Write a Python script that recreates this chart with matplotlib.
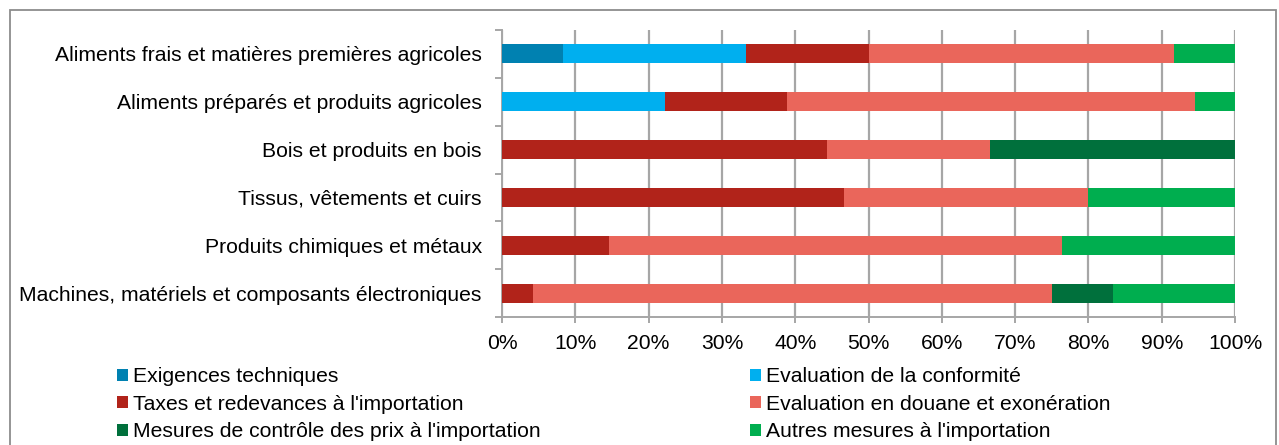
import matplotlib
matplotlib.use("Agg")
import matplotlib.pyplot as plt
from matplotlib.patches import Rectangle, Patch
from matplotlib.ticker import FixedLocator, PercentFormatter
import numpy as np

plt.rcParams['font.family'] = ['Liberation Sans', 'DejaVu Sans']

categories = [
    "Aliments frais et matières premières agricoles",
    "Aliments préparés et produits agricoles",
    "Bois et produits en bois",
    "Tissus, vêtements et cuirs",
    "Produits chimiques et métaux",
    "Machines, matériels et composants électroniques",
]

series_names = [
    "Exigences techniques",
    "Evaluation de la conformité",
    "Taxes et redevances à l'importation",
    "Evaluation en douane et exonération",
    "Mesures de contrôle des prix à l'importation",
    "Autres mesures à l'importation",
]

exigences = [8.3, 0.0, 0.0, 0.0, 0.0, 0.0]
conformite = [25.0, 22.2, 0.0, 0.0, 0.0, 0.0]
taxes = [16.7, 16.7, 44.4, 46.7, 14.6, 4.2]
douane = [41.7, 55.6, 22.2, 33.3, 61.8, 70.8]
prix = [0.0, 0.0, 33.4, 0.0, 0.0, 8.3]
autres = [8.3, 5.5, 0.0, 20.0, 23.6, 16.7]

colors = ["#0081B1", "#00AFEF", "#B1231A", "#EA665B", "#00703C", "#00AE4F"]

FS = 15.2
W, H = 1279, 445
fig = plt.figure(figsize=(W / 100, H / 100), dpi=100)

# outer frame of the chart
fig.patches.append(Rectangle((10 / W, -0.1), 1266 / W, 1.1 - 10 / H,
                             transform=fig.transFigure, fill=False,
                             edgecolor="#8C8C8C", linewidth=1.3))

ax = fig.add_axes([502 / W, 1 - 317 / H, (1235 - 502) / W, (317 - 30) / H])

data = [exigences, conformite, taxes, douane, prix, autres]
y = np.arange(len(categories))
left = np.zeros(len(categories))
for vals, name, col in zip(data, series_names, colors):
    vals = np.array(vals)
    ax.barh(y, vals, left=left, height=0.4, color=col, label=name, zorder=3)
    left += vals

ax.set_xlim(0, 100)
ax.set_ylim(len(categories) - 0.5, -0.5)

ax.set_xticks(np.arange(0, 101, 10))
ax.xaxis.set_major_formatter(PercentFormatter(decimals=0))
ax.grid(axis="x", color="#A6A6A6", linewidth=1.6, zorder=0)

ax.set_yticks(y)
ax.set_yticklabels(categories)
ax.yaxis.set_minor_locator(FixedLocator(np.arange(-0.5, len(categories), 1)))
ax.tick_params(axis="y", which="major", length=0, pad=14.5, labelsize=FS, colors="#000000")
ax.tick_params(axis="y", which="minor", length=5, width=1.4, color="#A6A6A6")
ax.tick_params(axis="x", which="major", length=4, width=1.4, color="#A6A6A6",
               labelsize=FS, pad=8.5)

for side in ["top", "right"]:
    ax.spines[side].set_visible(False)
for side in ["left", "bottom"]:
    ax.spines[side].set_color("#A6A6A6")
    ax.spines[side].set_linewidth(1.4)

handles = [Patch(facecolor=c, edgecolor="none") for c in colors]
order = [0, 2, 4, 1, 3, 5]
fig.legend([handles[i] for i in order], [series_names[i] for i in order],
           ncol=2, loc="upper left", bbox_to_anchor=(117 / W, 1 - 367.5 / H),
           frameon=False, fontsize=FS, handlelength=0.5, handleheight=0.5,
           handletextpad=0.24, labelspacing=0.40, columnspacing=9.95,
           borderaxespad=0, borderpad=0)

fig.savefig("out.png", dpi=100)
